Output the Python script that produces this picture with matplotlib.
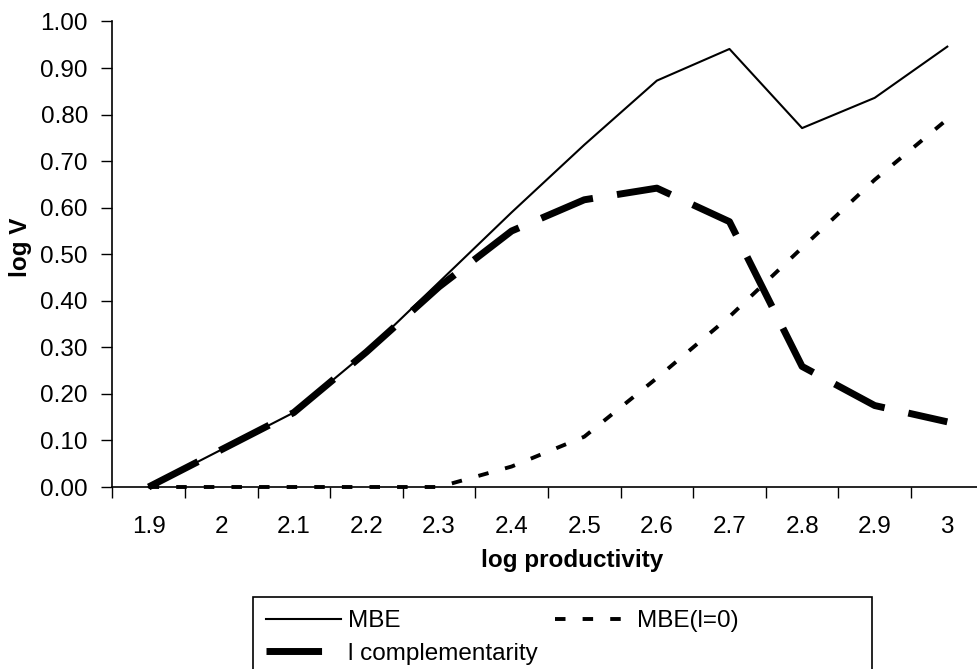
import matplotlib
matplotlib.use("Agg")
import matplotlib.pyplot as plt
from matplotlib.patches import Rectangle
from matplotlib.ticker import FormatStrFormatter, FixedLocator

plt.rcParams['font.family'] = ['Liberation Sans', 'DejaVu Sans']
plt.rcParams['font.size'] = 17.5

# data
categories = ['1.9', '2', '2.1', '2.2', '2.3', '2.4', '2.5', '2.6', '2.7', '2.8', '2.9', '3']
mbe = [0.00, 0.08, 0.16, 0.29, 0.44, 0.59, 0.735, 0.873, 0.941, 0.771, 0.836, 0.946]
mbe_l0 = [0.00, 0.00, 0.00, 0.00, 0.00, 0.044, 0.108, 0.234, 0.366, 0.514, 0.66, 0.79]
l_compl = [0.00, 0.08, 0.16, 0.29, 0.43, 0.55, 0.617, 0.642, 0.57, 0.259, 0.175, 0.14]

W, H = 977, 669
fig = plt.figure(figsize=(W / 100, H / 100), dpi=100)
x0, x1, ytop, ybot = 112.3, 983.6, 21.5, 487
ax = fig.add_axes([x0 / W, (H - ybot) / H, (x1 - x0) / W, (ybot - ytop) / H])

x = list(range(len(categories)))
h_mbe, = ax.plot(x, mbe, color='black', lw=1.5, zorder=4)
h_l0, = ax.plot(x, mbe_l0, color='black', lw=2.8, dashes=(2.7, 4.4),
                dash_capstyle='butt', zorder=3)
h_lc, = ax.plot(x, l_compl, color='black', lw=5.0, dashes=(8.0, 3.5),
                dash_capstyle='butt', zorder=2)
for h in (h_mbe, h_l0, h_lc):
    h.set_clip_on(False)

ax.set_xlim(-0.5, len(categories) - 0.5)
ax.set_ylim(0, 1.0)
ax.set_yticks([i / 10 for i in range(11)])
ax.yaxis.set_major_formatter(FormatStrFormatter('%.2f'))
ax.tick_params(axis='y', direction='out', length=8, width=1, pad=9.5)

ax.set_xticks(x)
ax.set_xticklabels(categories)
ax.xaxis.set_minor_locator(FixedLocator([i - 0.5 for i in range(len(categories) + 1)]))
ax.tick_params(axis='x', which='major', length=0, pad=21)
ax.tick_params(axis='x', which='minor', direction='out', length=8, width=1)

for s in ('top', 'right'):
    ax.spines[s].set_visible(False)
for s in ('left', 'bottom'):
    ax.spines[s].set_linewidth(1.2)

ax.set_xlabel('log productivity', fontweight='bold', va='center')
ax.xaxis.set_label_coords((572.5 - x0) / (x1 - x0), (ybot - 561) / (ybot - ytop))
fig.text(21 / W, 1 - 247.5 / H, 'log V', rotation=90, ha='center', va='center',
         fontweight='bold')

# legend box
fig.patches.append(Rectangle((253 / W, -0.05), (872 - 253) / W, 0.05 + (H - 597) / H,
                             transform=fig.transFigure, fill=False,
                             edgecolor='black', lw=1.2))
fig.legend([h_mbe, h_lc, h_l0], ['MBE', 'l complementarity', 'MBE(l=0)'],
           ncol=2, loc='upper left', bbox_to_anchor=(266 / W, 1 - 610 / H),
           frameon=False, borderpad=0, borderaxespad=0, handlelength=3.1,
           handletextpad=0.27, columnspacing=0.7, labelspacing=0.45)

fig.savefig('out.png', dpi=100)
